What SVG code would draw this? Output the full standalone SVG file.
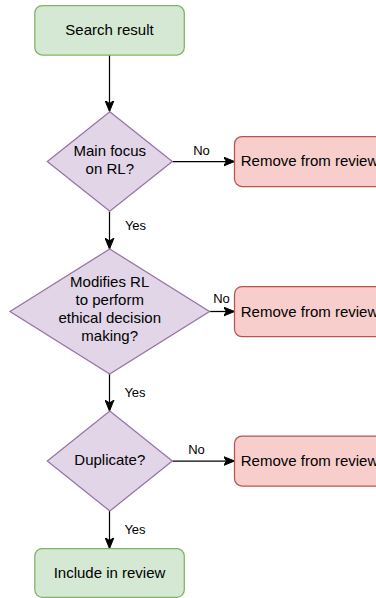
<svg xmlns="http://www.w3.org/2000/svg" width="376" height="598" viewBox="0 0 376 598">
<defs>
<marker id="arr" viewBox="0 0 12 10" refX="11" refY="5" markerWidth="12" markerHeight="10" markerUnits="userSpaceOnUse" orient="auto">
<path d="M11,5 L0,0.5 L3,5 L0,9.5 Z" fill="#000" stroke="#000" stroke-width="1"/>
</marker>
</defs>
<style>
.green{fill:#d5e8d4;stroke:#82b366;stroke-width:1.25}
.purple{fill:#e1d5e7;stroke:#9673a6;stroke-width:1.25}
.red{fill:#f8cecc;stroke:#b85450;stroke-width:1.25}
.t{font-family:"Liberation Sans",Arial,sans-serif;font-size:15px;fill:#000;text-anchor:middle}
.lbl{font-family:"Liberation Sans",Arial,sans-serif;font-size:13px;fill:#000;text-anchor:middle}
.edge{stroke:#000;stroke-width:1.25;fill:none;marker-end:url(#arr)}
</style>
<rect width="376" height="598" fill="#ffffff"/>
<g id="connectors">
<line class="edge" x1="109.5" y1="55" x2="109.5" y2="111.5"/>
<line class="edge" x1="109.5" y1="211.5" x2="109.5" y2="249"/>
<line class="edge" x1="109.5" y1="374" x2="109.5" y2="411"/>
<line class="edge" x1="109.5" y1="511" x2="109.5" y2="548.5"/>
<line class="edge" x1="172.5" y1="161.5" x2="234.5" y2="161.5"/>
<line class="edge" x1="209.5" y1="311.5" x2="234.5" y2="311.5"/>
<line class="edge" x1="172.5" y1="461" x2="234.5" y2="461"/>
<text class="lbl" x="201.5" y="155">No</text>
<text class="lbl" x="221.5" y="302.5">No</text>
<text class="lbl" x="196.5" y="453.5">No</text>
<text class="lbl" x="135.5" y="230">Yes</text>
<text class="lbl" x="135" y="396.5">Yes</text>
<text class="lbl" x="135" y="533.5">Yes</text>
</g>
<g id="search-result">
<rect class="green" x="34.8" y="5.5" width="149.5" height="49.5" rx="7.5" ry="7.5"/>
<text class="t" x="109.5" y="35">Search result</text>
</g>
<g id="main-focus">
<polygon class="purple" points="109.8,111.8 172.3,161.5 109.8,211.2 47.3,161.5"/>
<text class="t" x="109.8" y="155.5">Main focus</text>
<text class="t" x="109.8" y="174">on RL?</text>
</g>
<g id="remove-1">
<rect class="red" x="234.5" y="136.5" width="150" height="50" rx="7.5" ry="7.5"/>
<text class="t" x="309.5" y="166">Remove from review</text>
</g>
<g id="modifies-rl">
<polygon class="purple" points="109.7,249 209.5,311.5 109.7,374 10,311.5"/>
<text class="t" x="109.7" y="287">Modifies RL</text>
<text class="t" x="109.7" y="305">to perform</text>
<text class="t" x="109.7" y="323.3">ethical decision</text>
<text class="t" x="109.7" y="341">making?</text>
</g>
<g id="remove-2">
<rect class="red" x="234.5" y="286.7" width="150" height="50" rx="7.5" ry="7.5"/>
<text class="t" x="309.5" y="316.5">Remove from review</text>
</g>
<g id="duplicate">
<polygon class="purple" points="109.8,411 172.3,461 109.8,511 47.3,461"/>
<text class="t" x="109.8" y="465">Duplicate?</text>
</g>
<g id="remove-3">
<rect class="red" x="234.5" y="436" width="150" height="50" rx="7.5" ry="7.5"/>
<text class="t" x="309.5" y="465.5">Remove from review</text>
</g>
<g id="include">
<rect class="green" x="34.8" y="548.5" width="149.5" height="48.8" rx="7.5" ry="7.5"/>
<text class="t" x="109.5" y="578">Include in review</text>
</g>
</svg>
